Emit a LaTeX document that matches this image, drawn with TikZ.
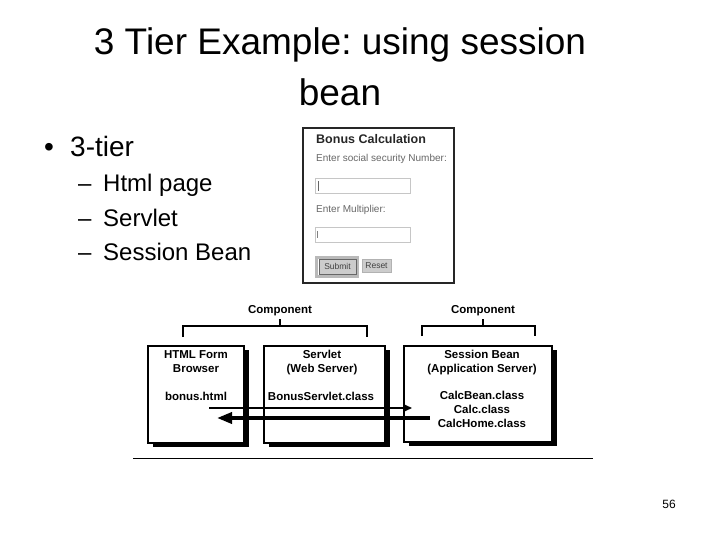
\documentclass[tikz,border=0pt]{standalone}
\usepackage{fontspec}
\setmainfont{Liberation Sans}
\usetikzlibrary{arrows.meta,shadows}
\frenchspacing

\begin{document}
\begin{tikzpicture}[x=1pt, y=-1pt,
    txt/.style={inner sep=0pt, anchor=base},
    titletext/.style={txt, font=\fontsize{37}{44}\selectfont},
    bullet/.style={txt, anchor=base west, font=\fontsize{28}{34}\selectfont},
    subitem/.style={txt, anchor=base west, font=\fontsize{24}{29}\selectfont},
    boxtext/.style={txt, font=\fontsize{11.5}{13}\selectfont\bfseries},
    tierbox/.style={draw, line width=2pt, fill=white, inner sep=0pt,
        drop shadow={shadow xshift=5pt, shadow yshift=-4pt, fill=black, opacity=1}},
    bracket/.style={line width=2pt},
    formtext/.style={txt, anchor=base west, text=black!60, font=\fontsize{10}{12}\selectfont},
    formbtn/.style={inner sep=0pt, fill=gray!40, text=black!75, font=\fontsize{8.5}{10}\selectfont}]
    \useasboundingbox (0,0) rectangle (720,540);
    % title
    \node[titletext] (title1) at (340,55) {3 Tier Example: using session};
    \node[titletext] (title2) at (340,106) {bean};
    % bullets
    \node[bullet] (dot) at (44,157) {•};
    \node[bullet] (tier) at (70,157) {3-tier};
    \foreach \name/\item/\yy in {html/Html page/192, servlet/Servlet/226, bean/Session Bean/260} {
        \node[subitem] (dash-\name) at (78,\yy) {–};
        \node[subitem] (\name) at (103,\yy) {\item};
    }
    % form screenshot
    \draw[line width=1.2pt, black!85] (303,128) rectangle (454,283);
    \node[txt, anchor=base west, text=black!85, font=\fontsize{12.5}{14}\selectfont\bfseries] (formtitle) at (316,144) {Bonus Calculation};
    \node[formtext] (ssnlabel) at (316,162) {Enter social security Number:};
    \draw[gray!45, line width=.7pt] (315,178) rectangle (410,193);
    \draw[black!60, line width=.6pt] (318,181) -- (318,191);
    \node[formtext] (multlabel) at (316,212) {Enter Multiplier:};
    \draw[gray!45, line width=.7pt] (315,227) rectangle (410,242);
    \draw[black!50, line width=.6pt] (317,231) -- (317,238);
    \draw[gray!55, line width=2.5pt] (316.5,257.5) rectangle (357.5,276.5);
    \node[formbtn, draw=black!60, minimum width=37pt, minimum height=15pt] (submit) at (337.5,266.5) {Submit};
    \node[formbtn, draw=gray!60, minimum width=29pt, minimum height=13pt] (reset) at (376.5,266) {Reset};
    % tiers
    \node[boxtext] (compweb) at (280,313) {Component};
    \node[boxtext] (compapp) at (483,313) {Component};
    \draw[bracket] (183,337) -- (183,326) -- (367,326) -- (367,337) (280,326) -- (280,319);
    \draw[bracket] (422,336) -- (422,326) -- (535,326) -- (535,336) (483,326) -- (483,319);
    \node[tierbox, minimum width=96pt, minimum height=97pt] (browserbox) at (196,394.5) {};
    \node[tierbox, minimum width=121pt, minimum height=97pt] (servletbox) at (324.5,394.5) {};
    \node[tierbox, minimum width=148pt, minimum height=96pt] (beanbox) at (478,394) {};
    \node[boxtext] (htmlform) at (196,358) {HTML Form};
    \node[boxtext] (browser) at (196,372) {Browser};
    \node[boxtext] (bonushtml) at (196,400) {bonus.html};
    \node[boxtext] (servletname) at (322,358) {Servlet};
    \node[boxtext] (webserver) at (322,372) {(Web Server)};
    \node[boxtext] (servletclass) at (321,400) {BonusServlet.class};
    \node[boxtext] (beanname) at (482,358) {Session Bean};
    \node[boxtext] (appserver) at (482,372) {(Application Server)};
    \node[boxtext] (beanclass) at (482,399) {CalcBean.class};
    \node[boxtext] (calcclass) at (482,413) {Calc.class};
    \node[boxtext] (homeclass) at (482,427) {CalcHome.class};
    \coordinate (reqstart) at (209,408);
    \coordinate (reqend) at (412,408);
    \coordinate (respstart) at (430,418);
    \coordinate (respend) at (217,418);
    \draw[-{Triangle[length=9pt,width=8pt]}, line width=1.5pt] (reqstart) -- (reqend);
    \draw[-{Triangle[length=15pt,width=11pt]}, line width=3.5pt] (respstart) -- (respend);
    \draw[line width=1pt] (133,458) -- (593,458);
    % page number
    \node[txt, font=\fontsize{12}{14}\selectfont] (pagenum) at (669,508) {56};
\end{tikzpicture}
\end{document}
